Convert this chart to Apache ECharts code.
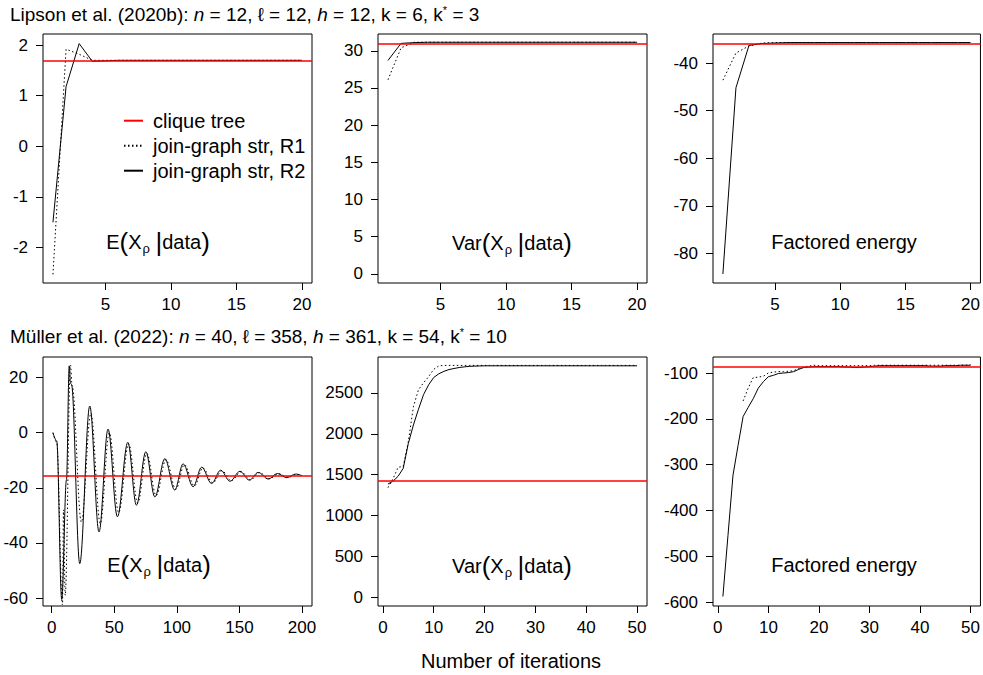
<!DOCTYPE html>
<html><head><meta charset="utf-8">
<script src="https://cdn.jsdelivr.net/npm/echarts@6/dist/echarts.min.js"></script>
<style>html,body{margin:0;padding:0;background:#fff}#c{width:983px;height:675px}</style>
</head><body><div id="c"></div>
<script>
// ---------- data ----------
const lipsonIter = [1,2,3,4,5,6,7,8,9,10,11,12,13,14,15,16,17,18,19,20];
const lipsonE_R1 = [-2.53,1.92,1.82,1.70,1.70,1.70,1.70,1.70,1.70,1.70,1.70,1.70,1.70,1.70,1.70,1.70,1.70,1.70,1.70,1.70];
const lipsonE_R2 = [-1.50,1.18,2.03,1.68,1.69,1.70,1.70,1.70,1.70,1.70,1.70,1.70,1.70,1.70,1.70,1.70,1.70,1.70,1.70,1.70];
const lipsonE_tree = 1.70;
const lipsonVar_R1 = [26.1,30.4,31.15,31.15,31.15,31.15,31.15,31.15,31.15,31.15,31.15,31.15,31.15,31.15,31.15,31.15,31.15,31.15,31.15,31.15];
const lipsonVar_R2 = [28.7,31.0,31.1,31.15,31.15,31.15,31.15,31.15,31.15,31.15,31.15,31.15,31.15,31.15,31.15,31.15,31.15,31.15,31.15,31.15];
const lipsonVar_tree = 31.0;
const lipsonEnergy_R1 = [-43.6,-37.9,-36.4,-35.8,-35.7,-35.7,-35.7,-35.7,-35.7,-35.7,-35.7,-35.7,-35.7,-35.7,-35.7,-35.7,-35.7,-35.7,-35.7,-35.7];
const lipsonEnergy_R2 = [-84.3,-45.2,-36.3,-35.9,-35.8,-35.7,-35.7,-35.7,-35.7,-35.7,-35.7,-35.7,-35.7,-35.7,-35.7,-35.7,-35.7,-35.7,-35.7,-35.7];
const lipsonEnergy_tree = -35.9;

const mullerE_R1_iter = [1,4,8.6,9.4,10.8,15,16.3,23.7,31.3,38.8,46,53.5,61.5,68.7,76,83.4,91.3,99.2,106,114,120.8,128.7,136,143.4,151.3,158.9,166,174,181.3,188.7,196,200];
const mullerE_R1 = [0,-3.5,-62.5,-28,-59,24.6,17,-32.5,7,-33,0,-29,-4,-25.5,-7.5,-22.8,-9.8,-20.5,-11.6,-19.3,-12.8,-18.2,-13.8,-17.4,-14.2,-17.1,-14.5,-16.7,-14.9,-16.2,-15.1,-15.5];
const mullerE_R2_iter = [1,4,8,11.8,14,15,15.8,22.4,30.4,37.8,45,52.5,60.8,67.7,75.2,82.4,90.4,98.3,105,113,119.8,127.7,135,142.4,150.4,157.9,165,173,180.3,187.7,195,200];
const mullerE_R2 = [0,-3,-60.5,-17,24.3,18,17.5,-47.5,9.7,-36,1.3,-30.5,-3.5,-26.3,-6.9,-23.3,-9.4,-20.8,-11.3,-19.6,-12.5,-18.4,-13.6,-17.6,-14,-17.2,-14.4,-16.8,-14.8,-16.3,-15.0,-15.6];
const mullerE_tree = -15.6;

const mullerIter = [1,2,3,4,5,6,7,8,9,10,11,12,13,14,15,16,17,18,19,20,21,22,23,24,25,26,27,28,29,30,31,32,33,34,35,36,37,38,39,40,41,42,43,44,45,46,47,48,49,50];
const mullerVar_R1 = [1340,1450,1590,1600,1900,2330,2540,2625,2700,2790,2832,2838,2838,2838,2838,2838,2838,2838,2838,2838,2838,2838,2838,2838,2838,2838,2838,2838,2838,2838,2838,2838,2838,2838,2838,2838,2838,2838,2838,2838,2838,2838,2838,2838,2838,2838,2838,2838,2838,2838];
const mullerVar_R2 = [1384,1420,1480,1576,1880,2107,2300,2480,2600,2690,2735,2765,2787,2800,2812,2820,2826,2829,2831,2833,2833,2833,2833,2833,2833,2833,2833,2833,2833,2833,2833,2833,2833,2833,2833,2833,2833,2833,2833,2833,2833,2833,2833,2833,2833,2833,2833,2833,2833,2833];
const mullerVar_tree = 1425;
const mullerEnergy_R1 = [null,null,null,null,-161,-133,-110,-109,-107,-100,-98,-97,-97,-96,-95,-90,-87,-85,-83,-84,-84,-84,-84,-84,-84,-84,-84,-84,-84,-84,-83,-83,-83,-83,-83,-83,-83,-83,-83,-83,-83,-83,-83,-83,-83,-83,-83,-83,-83,-82];
const mullerEnergy_R2 = [-588,-455,-323,-258,-195,-175,-156,-133,-119,-108,-105,-101,-100,-99,-97,-92,-88,-87,-86,-86,-86,-86,-86,-86,-87,-87,-88,-88,-87,-86,-85,-84,-84,-84,-84,-84,-84,-84,-84,-84,-84,-85,-85,-85,-84,-84,-84,-83,-83,-83];
const mullerEnergy_tree = -86.3;

const xTicksLipson = [5,10,15,20];
const xTicksMullerE = [0,50,100,150,200];
const xTicksMuller = [0,10,20,30,40,50];
const yTicksLipsonE = [-2,-1,0,1,2];
const yTicksLipsonVar = [0,5,10,15,20,25,30];
const yTicksLipsonEnergy = [-80,-70,-60,-50,-40];
const yTicksMullerE = [-60,-40,-20,0,20];
const yTicksMullerVar = [0,500,1000,1500,2000,2500];
const yTicksMullerEnergy = [-600,-500,-400,-300,-200,-100];

const seriesNames = ['clique tree','join-graph str, R1','join-graph str, R2'];
const title1 = 'Lipson et al. (2020b): {i|n} = 12, ℓ = 12, {i|h} = 12, k = 6, k{u|*} = 3';
const title2 = 'Müller et al. (2022): {i|n} = 40, ℓ = 358, {i|h} = 361, k = 54, k{u|*} = 10';
const xLabel = 'Number of iterations';

// ---------- layout ----------
const FF = '"Liberation Sans", Arial, Helvetica, sans-serif';
const zip = (xs, ys) => xs.map((x, i) => [x, ys[i]]);
const panels = [
  {grid:{left:43,top:34}, xr:[0.24,20.76], yr:[-2.70,2.22], xt:xTicksLipson, yt:yTicksLipsonE,
   r1:zip(lipsonIter,lipsonE_R1), r2:zip(lipsonIter,lipsonE_R2), tree:lipsonE_tree, smooth:false},
  {grid:{left:378,top:34}, xr:[0.24,20.76], yr:[-1.24,32.26], xt:xTicksLipson, yt:yTicksLipsonVar,
   r1:zip(lipsonIter,lipsonVar_R1), r2:zip(lipsonIter,lipsonVar_R2), tree:lipsonVar_tree, smooth:false},
  {grid:{left:713,top:34}, xr:[0.24,20.76], yr:[-86.2,-33.9], xt:xTicksLipson, yt:yTicksLipsonEnergy,
   r1:zip(lipsonIter,lipsonEnergy_R1), r2:zip(lipsonIter,lipsonEnergy_R2), tree:lipsonEnergy_tree, smooth:false},
  {grid:{left:43,top:357}, xr:[-6.96,207.96], yr:[-62.9,27.5], xt:xTicksMullerE, yt:yTicksMullerE,
   r1:zip(mullerE_R1_iter,mullerE_R1), r2:zip(mullerE_R2_iter,mullerE_R2), tree:mullerE_tree, smooth:true},
  {grid:{left:378,top:357}, xr:[-0.96,51.96], yr:[-110,2941], xt:xTicksMuller, yt:yTicksMullerVar,
   r1:zip(mullerIter,mullerVar_R1), r2:zip(mullerIter,mullerVar_R2), tree:mullerVar_tree, smooth:false},
  {grid:{left:713,top:357}, xr:[-0.96,51.96], yr:[-608.7,-65], xt:xTicksMuller, yt:yTicksMullerEnergy,
   r1:zip(mullerIter,mullerEnergy_R1), r2:zip(mullerIter,mullerEnergy_R2), tree:mullerEnergy_tree, smooth:false}
];

const grid = [], xAxis = [], yAxis = [], series = [];
panels.forEach((p, i) => {
  grid.push({left:p.grid.left, top:p.grid.top, width:269, height:249, show:true,
    borderColor:'#000', borderWidth:1, backgroundColor:'transparent'});
  const ax = (ticks, mn, mx, margin) => ({
    type:'value', gridIndex:i, min:mn, max:mx, splitLine:{show:false},
    axisLine:{show:false, onZero:false},
    axisTick:{show:true, length:7, lineStyle:{color:'#000', width:1}, customValues:ticks},
    axisLabel:{customValues:ticks, fontSize:17, color:'#000', fontFamily:FF, margin:margin,
      formatter:(v) => String(v)}
  });
  xAxis.push(ax(p.xt, p.xr[0], p.xr[1], 13));
  yAxis.push(ax(p.yt, p.yr[0], p.yr[1], 15));
  const sm = p.smooth ? {smooth:0.36, smoothMonotone:'x'} : {smooth:false};
  series.push(Object.assign({type:'line', name:seriesNames[1], xAxisIndex:i, yAxisIndex:i, data:p.r1,
    symbol:'none', silent:true, color:'#000',
    lineStyle:{color:'#000', width:1, type:[1.5,2.5]}}, sm));
  series.push(Object.assign({type:'line', name:seriesNames[2], xAxisIndex:i, yAxisIndex:i, data:p.r2,
    symbol:'none', silent:true, color:'#000',
    lineStyle:{color:'#000', width:1, type:'solid'}}, sm));
  series.push({type:'line', name:seriesNames[0], xAxisIndex:i, yAxisIndex:i, data:[],
    symbol:'none', silent:true, color:'#ff0000', z:5,
    lineStyle:{color:'#ff0000', width:1.5},
    markLine:{silent:true, symbol:'none', label:{show:false}, animation:false,
      lineStyle:{color:'#ff0000', width:1.5, type:'solid'}, data:[{yAxis:p.tree}]}});
});

const eLabel = 'E{b|(}X{s|ρ} {b||}data{b|)}';
const vLabel = 'Var{b|(}X{s|ρ} {b||}data{b|)}';
const fLabel = 'Factored energy';
const labelRich = {b:{fontSize:26, fontFamily:FF, fill:'#000'}, s:{fontSize:13, fontFamily:FF, fill:'#000', verticalAlign:'bottom', padding:[0,0,0,1]}};
const panelLabel = (txt, x, y) => ({type:'text', x, y, silent:true,
  style:{text:txt, fontSize:20, fontFamily:FF, fill:'#000', align:'center', verticalAlign:'middle', rich:labelRich}});
const titleRich = {i:{fontStyle:'italic', fontSize:19, fontFamily:FF, fill:'#000'}, u:{fontSize:11, fontFamily:FF, fill:'#000', verticalAlign:'top'}};
const titleText = (txt, x, y) => ({type:'text', x, y, silent:true,
  style:{text:txt, fontSize:19, fontFamily:FF, fill:'#000', align:'left', verticalAlign:'middle', rich:titleRich}});

const option = {
  animation:false,
  backgroundColor:'#fff',
  grid, xAxis, yAxis, series,
  legend:{left:123, top:110.7, padding:0, orient:'vertical', itemWidth:19, itemHeight:14, itemGap:5,
    selectedMode:false, data:seriesNames, itemStyle:{opacity:0},
    textStyle:{fontSize:20, fontFamily:FF, color:'#000', padding:[0,0,0,5], lineHeight:20}},
  graphic:[
    titleText(title1, 10, 14),
    titleText(title2, 10, 336),
    panelLabel(eLabel, 158, 242),
    panelLabel(vLabel, 512, 243),
    panelLabel(fLabel, 844, 242),
    panelLabel(eLabel, 159, 565),
    panelLabel(vLabel, 512, 566),
    panelLabel(fLabel, 844, 565),
    {type:'text', x:511, y:661, silent:true, style:{text:xLabel, fontSize:20, fontFamily:FF, fill:'#000', align:'center', verticalAlign:'middle'}}
  ]
};
const chart = echarts.init(document.getElementById('c'), null, {renderer:'svg'});
chart.setOption(option);
</script></body></html>
